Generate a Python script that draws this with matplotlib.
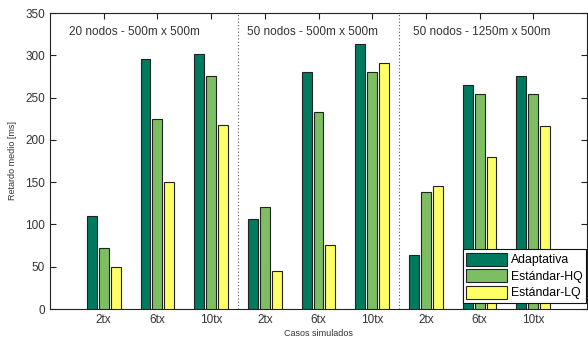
import matplotlib
matplotlib.use("Agg")
import matplotlib.pyplot as plt
import numpy as np

plt.rcParams['font.family'] = ['Liberation Sans', 'DejaVu Sans']

tick_labels = ["2tx", "6tx", "10tx", "2tx", "6tx", "10tx", "2tx", "6tx", "10tx"]
adaptativa = [110, 296, 302, 107, 280, 313, 64, 265, 275]
estandar_hq = [72, 225, 275, 121, 233, 280, 138, 254, 254]
estandar_lq = [50, 150, 218, 45, 76, 291, 146, 180, 216]
series_names = ["Adaptativa", "Estándar-HQ", "Estándar-LQ"]
colors = ["#007A5E", "#7DBE62", "#FFFF66"]
group_titles = ["20 nodos - 500m x 500m", "50 nodos - 500m x 500m", "50 nodos - 1250m x 500m"]

fig = plt.figure(figsize=(5.88, 3.37), dpi=100)
ax = fig.add_axes([50/588, 28/337, 537/588, 296/337])

x = np.arange(1, len(tick_labels) + 1)
w = 0.185
off = 0.222
for i, (vals, name, c) in enumerate(zip([adaptativa, estandar_hq, estandar_lq], series_names, colors)):
    ax.bar(x + (i - 1) * off, vals, width=w, color=c, edgecolor="#222222",
           linewidth=0.8, label=name, zorder=3)

for xv in [3.5, 6.5]:
    ax.axvline(xv, color="#555555", linestyle=(0, (1, 2)), linewidth=0.8, zorder=1)

for gx, t in zip([0.36, 3.67, 6.76], group_titles):
    ax.text(gx, 327, t, fontsize=8.5, va="center", ha="left", color="#333333")

ax.set_xlim(0, 10)
ax.set_ylim(0, 350)
ax.set_yticks(np.arange(0, 351, 50))
ax.set_xticks(x)
ax.set_xticklabels(tick_labels)
ax.tick_params(direction="in", top=True, right=True, labelsize=8.5, length=4,
               colors="#222222", labelcolor="#333333")
for s in ax.spines.values():
    s.set_linewidth(0.8)
    s.set_color("#222222")
ax.set_ylabel("Retardo medio [ms]", fontsize=6.5, labelpad=6, color="#333333")
ax.set_xlabel("Casos simulados", fontsize=6.5, labelpad=2, color="#333333")

leg = ax.legend(loc="lower right", fontsize=8.8, fancybox=False, framealpha=1,
                edgecolor="#111111", handlelength=3.3, handleheight=1.25,
                borderpad=0.3, labelspacing=0.25, handletextpad=0.35,
                borderaxespad=0.0, bbox_to_anchor=(0.9985, 0.02))
leg.get_frame().set_linewidth(0.8)

fig.savefig("out.png", dpi=100)
